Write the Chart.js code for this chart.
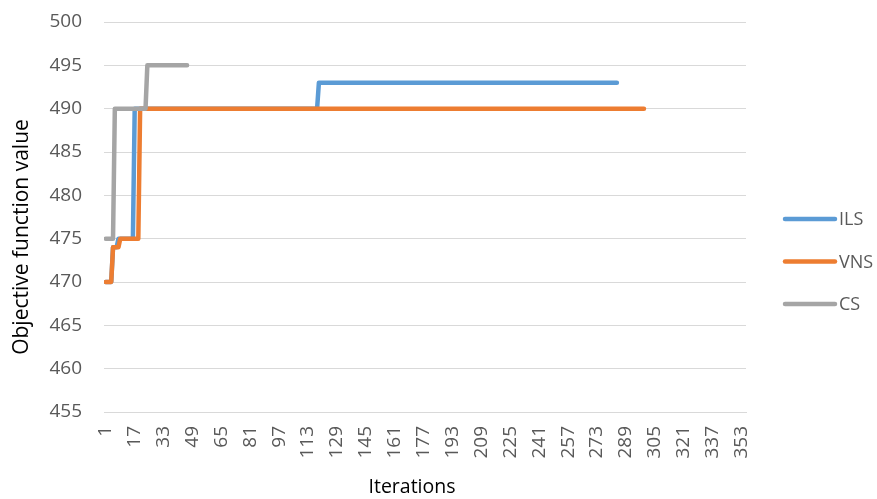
<!DOCTYPE html>
<html><head><meta charset="utf-8">
<script src="https://cdn.jsdelivr.net/npm/chart.js@4.4.1/dist/chart.umd.min.js"></script>
<style>html,body{margin:0;padding:0;background:#fff}#wrap{width:877px;height:499px;position:relative}</style>
</head><body><div id="wrap"><canvas id="c" width="877" height="499"></canvas></div>
<script>
// Series as change points: iteration -> objective value
const seriesNames = ['ILS', 'VNS', 'CS'];
const ilsIterations = [1, 4, 5, 7, 8, 16, 17, 118, 119, 284];
const ilsValues     = [470, 470, 474, 474, 475, 475, 490, 490, 493, 493];
const vnsIterations = [1, 4, 5, 8, 9, 19, 20, 299];
const vnsValues     = [470, 470, 474, 474, 475, 475, 490, 490];
const csIterations  = [1, 5, 6, 23, 24, 46];
const csValues      = [475, 475, 490, 490, 495, 495];
const xTickLabels = [1, 17, 33, 49, 65, 81, 97, 113, 129, 145, 161, 177, 193, 209, 225, 241, 257, 273, 289, 305, 321, 337, 353];
const yTickLabels = [455, 460, 465, 470, 475, 480, 485, 490, 495, 500];
const seriesColors = ['#5B9BD5', '#ED7D31', '#A5A5A5'];
const xTitle = 'Iterations';
const yTitle = 'Objective function value';

const toPoints = (xs, ys) => xs.map((x, i) => ({x: x, y: ys[i]}));
const FONT = '"Open Sans", "Noto Sans", sans-serif';
const TEXT = '#595959';

const sideLegend = {
  id: 'sideLegend',
  afterDraw(chart) {
    const ctx = chart.ctx;
    const ys = [219, 261.5, 304];
    chart.data.datasets.forEach((ds, i) => {
      ctx.save();
      ctx.strokeStyle = ds.borderColor;
      ctx.lineWidth = 4.5;
      ctx.lineCap = 'round';
      ctx.beginPath();
      ctx.moveTo(785, ys[i]);
      ctx.lineTo(835, ys[i]);
      ctx.stroke();
      ctx.fillStyle = TEXT;
      ctx.font = '18px ' + FONT;
      ctx.textBaseline = 'middle';
      ctx.textAlign = 'left';
      ctx.fillText(ds.label, 839, ys[i] + 1);
      ctx.restore();
    });
  }
};

const axisTitles = {
  id: 'axisTitles',
  afterDraw(chart) {
    const ctx = chart.ctx;
    ctx.save();
    ctx.fillStyle = '#000';
    ctx.textAlign = 'center';
    ctx.textBaseline = 'middle';
    ctx.font = '19.5px ' + FONT;
    ctx.fillText(xTitle, 412, 487);
    ctx.translate(22, 237);
    ctx.rotate(-Math.PI / 2);
    ctx.font = '21px ' + FONT;
    ctx.fillText(yTitle, 0, 0);
    ctx.restore();
  }
};

const common = {borderWidth: 4.5, pointRadius: 0, pointHoverRadius: 0, borderCapStyle: 'round', borderJoinStyle: 'round', fill: false, tension: 0};

new Chart(document.getElementById('c'), {
  type: 'line',
  data: {
    datasets: [
      Object.assign({label: seriesNames[0], data: toPoints(ilsIterations, ilsValues), borderColor: seriesColors[0], backgroundColor: seriesColors[0], order: 3}, common),
      Object.assign({label: seriesNames[1], data: toPoints(vnsIterations, vnsValues), borderColor: seriesColors[1], backgroundColor: seriesColors[1], order: 2}, common),
      Object.assign({label: seriesNames[2], data: toPoints(csIterations, csValues), borderColor: seriesColors[2], backgroundColor: seriesColors[2], order: 1}, common)
    ]
  },
  options: {
    responsive: false,
    animation: false,
    devicePixelRatio: 1,
    layout: {autoPadding: false, padding: {left: 0, right: 131, top: 22, bottom: 0}},
    plugins: {legend: {display: false}, tooltip: {enabled: false}},
    scales: {
      x: {
        type: 'linear',
        min: 0,
        max: 355.5,
        afterBuildTicks: (scale) => { scale.ticks = xTickLabels.map(v => ({value: v})); },
        afterFit: (scale) => { scale.height = 87; scale.paddingLeft = 0; scale.paddingRight = 0; },
        ticks: {autoSkip: false, minRotation: 90, maxRotation: 90, padding: 14, color: TEXT, font: {family: FONT, size: 19}, callback: (v) => String(v)},
        grid: {display: false, drawTicks: false},
        border: {display: true, color: '#D9D9D9', width: 1},
        title: {display: false}
      },
      y: {
        type: 'linear',
        min: 455,
        max: 500,
        afterBuildTicks: (scale) => { scale.ticks = yTickLabels.map(v => ({value: v})); },
        afterFit: (scale) => { scale.width = 104; scale.paddingTop = 0; scale.paddingBottom = 0; },
        ticks: {padding: 22, color: TEXT, font: {family: FONT, size: 19}},
        grid: {color: '#D9D9D9', lineWidth: 1, drawTicks: false},
        border: {display: false},
        title: {display: false}
      }
    }
  },
  plugins: [sideLegend, axisTitles]
});
</script>
</body></html>
